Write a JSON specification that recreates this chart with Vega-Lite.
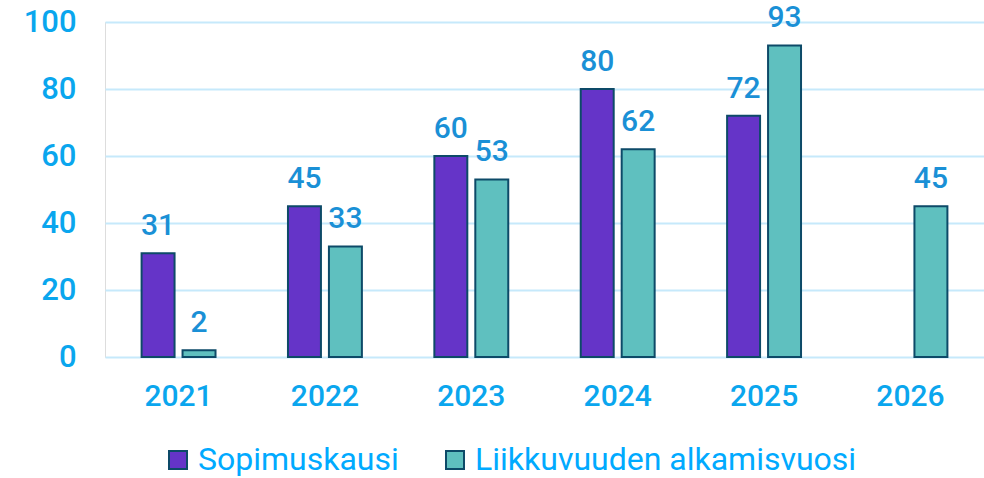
{
  "$schema": "https://vega.github.io/schema/vega-lite/v6.json",
  "autosize": {"type": "none"},
  "width": 879,
  "height": 335,
  "padding": {"left": 105, "right": 0, "top": 22, "bottom": 121},
  "background": "white",
  "data": {"values": [
    {"vuosi": "2021", "sarja": "Sopimuskausi", "arvo": 31},
    {"vuosi": "2021", "sarja": "Liikkuvuuden alkamisvuosi", "arvo": 2},
    {"vuosi": "2022", "sarja": "Sopimuskausi", "arvo": 45},
    {"vuosi": "2022", "sarja": "Liikkuvuuden alkamisvuosi", "arvo": 33},
    {"vuosi": "2023", "sarja": "Sopimuskausi", "arvo": 60},
    {"vuosi": "2023", "sarja": "Liikkuvuuden alkamisvuosi", "arvo": 53},
    {"vuosi": "2024", "sarja": "Sopimuskausi", "arvo": 80},
    {"vuosi": "2024", "sarja": "Liikkuvuuden alkamisvuosi", "arvo": 62},
    {"vuosi": "2025", "sarja": "Sopimuskausi", "arvo": 72},
    {"vuosi": "2025", "sarja": "Liikkuvuuden alkamisvuosi", "arvo": 93},
    {"vuosi": "2026", "sarja": "Liikkuvuuden alkamisvuosi", "arvo": 45}
  ]},
  "encoding": {
    "x": {"field": "vuosi", "type": "ordinal", "title": null,
      "scale": {"paddingInner": 0.495, "paddingOuter": 0.25},
      "axis": {"domain": false, "ticks": false, "labelAngle": 0, "labelFont": "Roboto", "labelFontSize": 30, "labelFontWeight": 500, "labelColor": "#0aa6ee", "labelPadding": 24}},
    "xOffset": {"field": "sarja", "type": "nominal", "sort": ["Sopimuskausi", "Liikkuvuuden alkamisvuosi"], "scale": {"paddingInner": 0.195}},
    "y": {"field": "arvo", "type": "quantitative", "title": null,
      "scale": {"domain": [0, 100]},
      "axis": {"values": [0, 20, 40, 60, 80, 100], "domain": false, "ticks": false, "gridColor": "#c6e9fb", "gridWidth": 2, "labelFont": "Roboto", "labelFontSize": 31, "labelFontWeight": 500, "labelColor": "#0aa6ee", "labelPadding": 29}}
  },
  "layer": [
    {
      "mark": {"type": "bar", "stroke": "#0d4a68", "strokeWidth": 2},
      "encoding": {
        "color": {"field": "sarja", "type": "nominal", "sort": ["Sopimuskausi", "Liikkuvuuden alkamisvuosi"],
          "scale": {"domain": ["Sopimuskausi", "Liikkuvuuden alkamisvuosi"], "range": ["#6534c8", "#5fc0bf"]},
          "legend": {"title": null, "orient": "none", "legendX": 57, "legendY": 422, "direction": "horizontal", "symbolType": "square", "symbolSize": 324, "symbolStrokeColor": "#0d4a68", "symbolStrokeWidth": 2, "symbolOpacity": 1, "labelFont": "Roboto", "labelFontSize": 32, "labelColor": "#00aaff", "labelLimit": 500, "columnPadding": 40, "labelOffset": 4}}
      }
    },
    {
      "mark": {"type": "text", "baseline": "alphabetic", "dy": -18, "font": "Roboto", "fontSize": 30, "fontWeight": 500, "color": "#1a90d6"},
      "encoding": {"text": {"field": "arvo", "type": "quantitative"}}
    }
  ]
}
